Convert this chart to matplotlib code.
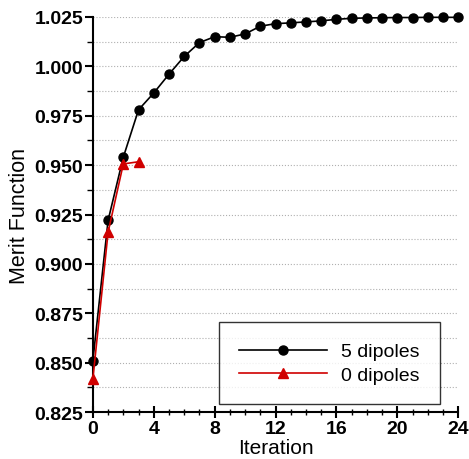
import matplotlib.pyplot as plt
from matplotlib.ticker import MultipleLocator

plt.rcParams['font.family'] = ['Liberation Sans', 'DejaVu Sans']

iter_5 = list(range(25))
merit_5 = [0.851, 0.922, 0.954, 0.978, 0.9865, 0.996, 1.005, 1.012, 1.015, 1.0147,
           1.0164, 1.0203, 1.0216, 1.022, 1.0225, 1.023, 1.0238, 1.0243, 1.0245,
           1.0246, 1.0247, 1.0247, 1.0248, 1.0248, 1.0248]
iter_0 = [0, 1, 2, 3]
merit_0 = [0.8417, 0.916, 0.9506, 0.9517]

fig = plt.figure(figsize=(4.69, 4.60), dpi=100)
ax = fig.add_axes([0.198, 0.102, 0.779, 0.859])

ax.plot(iter_5, merit_5, color='black', lw=1.2, marker='o', ms=6.5,
        label='5 dipoles', clip_on=False, zorder=4)
ax.plot(iter_0, merit_0, color='#d00000', lw=1.2, marker='^', ms=7.5,
        label='0 dipoles', clip_on=False, zorder=5)

ax.set_xlim(0, 24)
ax.set_ylim(0.825, 1.025)
ax.xaxis.set_major_locator(MultipleLocator(4))
ax.xaxis.set_minor_locator(MultipleLocator(1))
ax.yaxis.set_major_locator(MultipleLocator(0.025))
ax.yaxis.set_minor_locator(MultipleLocator(0.0125))
ax.yaxis.set_major_formatter(plt.FormatStrFormatter('%.3f'))

ax.grid(axis='y', which='both', color='#b0b0b0', ls=':', lw=0.8)
ax.set_axisbelow(True)

for s in ['top', 'right']:
    ax.spines[s].set_visible(False)
for s in ['left', 'bottom']:
    ax.spines[s].set_linewidth(1.5)

ax.tick_params(axis='both', which='major', direction='inout', length=9, width=1.5,
               labelsize=14, pad=1)
ax.tick_params(axis='both', which='minor', direction='inout', length=5, width=1.0)
ax.tick_params(axis='y', which='major', direction='out', length=6)
ax.tick_params(axis='y', which='minor', direction='out', length=4)
for lab in ax.get_xticklabels() + ax.get_yticklabels():
    lab.set_fontweight('bold')

ax.set_xlabel('Iteration', fontsize=15, labelpad=1)
ax.set_ylabel('Merit Function', fontsize=15.5, labelpad=3)

leg = ax.legend(loc='lower right', bbox_to_anchor=(0.951, 0.02), fontsize=14,
                frameon=True, fancybox=False, edgecolor='black', handlelength=4.5,
                borderpad=1.05, labelspacing=0.3, handletextpad=0.75, borderaxespad=0)
leg.get_frame().set_linewidth(1.0)

fig.savefig('out.png', dpi=100)
